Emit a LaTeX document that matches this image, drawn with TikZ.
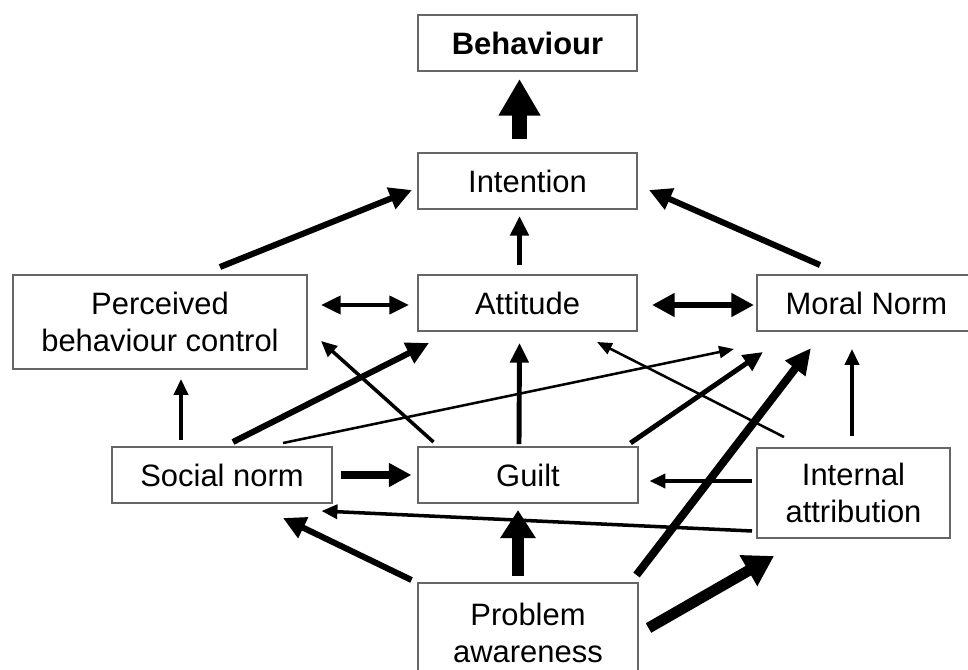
\documentclass[tikz,border=0pt]{standalone}
\usepackage{fontspec}
\setmainfont{Liberation Sans}
\usetikzlibrary{arrows.meta,calc}

\tikzset{
  box/.style={draw=black!60, line width=1.4pt, inner sep=0pt, align=center,
    minimum width=5.475cm, minimum height=1.4cm,
    font=\fontsize{22}{26}\selectfont},
  link/.style n args={3}{line width=#1, -{Triangle[length=#2,width=#3]}},
  both/.style n args={3}{line width=#1,
    {Triangle[length=#2,width=#3]}-{Triangle[length=#2,width=#3]}},
  hair/.style={link={1.8pt}{10.6pt}{8.5pt}},
  thin/.style={link={2.5pt}{11.3pt}{10pt}},
  med/.style={link={3.5pt}{14pt}{12.8pt}},
  heavy/.style={link={4.3pt}{16pt}{15.6pt}},
}

\begin{document}
\begin{tikzpicture}[x=0.025cm,y=-0.025cm]
\useasboundingbox (0,0) rectangle (968,670);

% top row.
\node[box,font=\fontsize{22}{26}\selectfont\bfseries] (beh) at (527.5,43) {Behaviour};
\node[box] (int) at (527.5,181) {Intention};

% middle row.
\node[box,minimum width=7.35cm,minimum height=2.35cm] (pbc) at (160,322) {Perceived\\behaviour control};
\node[box] (att) at (527.5,303) {Attitude};
\node[box] (mor) at (866.5,303) {Moral Norm};

% lower row.
\node[box] (soc) at (222,475) {Social norm};
\node[box] (gui) at (528,475) {Guilt};
\node[box,minimum width=4.825cm,minimum height=2.25cm] (ina) at (853.5,493) {Internal\\attribution};

% bottom box, cut by the frame.
\node[box,minimum height=2.5cm] (pro) at (528,633) {Problem\\awareness};

\draw[link={10.6pt}{26pt}{28pt}] ($(int.north)+(-8,-13)$) -- ($(beh.south)+(-8,7)$);
\draw[med] ($(att.north)+(-8,-9)$) -- ($(int.south)+(-8,6)$);
\draw[heavy] ($(pbc.north)+(60,-7)$) -- ($(int.west)+(-5,9)$);
\draw[heavy] ($(mor.north)+(-46.5,-9)$) -- ($(int.east)+(11,9)$);

\draw[both={2.8pt}{14pt}{12.8pt}] ($(pbc.east)+(13,-17)$) -- ($(att.west)+(-8,2)$);
\draw[both={4.3pt}{16pt}{16pt}] ($(att.east)+(14,2)$) -- ($(mor.west)+(-2,2)$);

\draw[thin] ($(soc.north)+(-41,-6)$) -- ($(pbc.south)+(21,9)$);
\draw[heavy] ($(soc.north)+(11,-4)$) -- ($(att.south west)+(12,11)$);
\draw[hair] ($(soc.north)+(61,-3)$) -- ($(mor.south west)+(-22,17)$);
\draw[link={5pt}{16pt}{16pt}] ($(soc.east)+(8,0)$) -- ($(gui.west)+(-6,0)$);

\draw[thin] ($(gui.north west)+(16,-4)$) -- ($(pbc.south east)+(13,-29)$);
\draw[med] ($(gui.north)+(-9,-2)$) -- ($(att.south)+(-8,11)$);
\draw[med] ($(gui.north east)+(-8,-3)$) -- ($(mor.south west)+(7,20)$);

\draw[hair] ($(ina.north west)+(28,-10)$) -- ($(att.south east)+(-41,10)$);
\draw[thin] ($(ina.north)+(-1.5,-11)$) -- ($(mor.south)+(-14.5,17)$);
\draw[thin] ($(ina.west)+(-4,-12)$) -- ($(gui.east)+(11,6)$);
\draw[thin] ($(ina.south west)+(-4,-8)$) -- ($(soc.south east)+(-11,7)$);

\draw[heavy] ($(pro.north west)+(-6,-2)$) -- ($(soc.south)+(61,14)$);
\draw[link={9.2pt}{20pt}{24pt}] ($(pro.north)+(-10,-6)$) -- ($(gui.south)+(-10,6)$);
\draw[link={5.7pt}{18.4pt}{17pt}] ($(pro.north east)+(-2,-7)$) -- ($(mor.south)+(-55.5,16)$);
\draw[link={7.8pt}{21pt}{24pt}] ($(pro.east)+(10,-5)$) -- ($(ina.south west)+(18,17)$);

\end{tikzpicture}
\end{document}
